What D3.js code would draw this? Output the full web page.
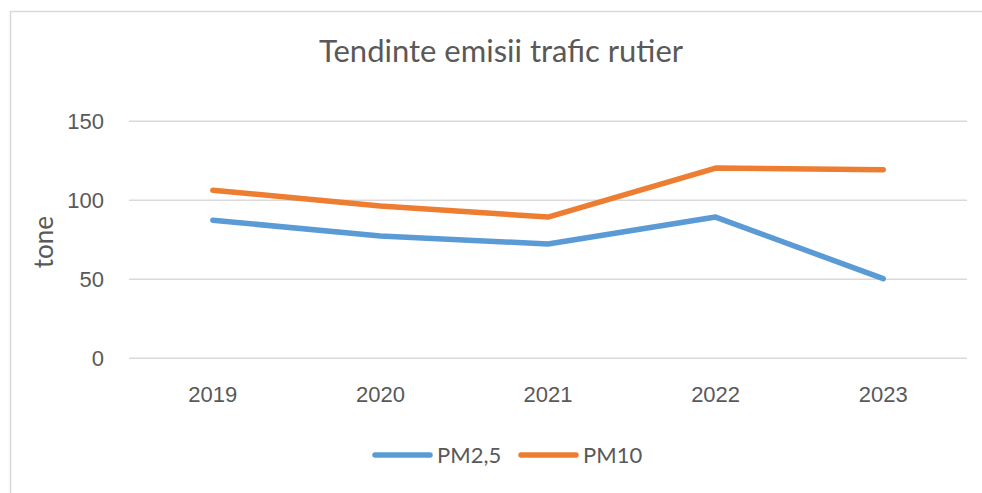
<!DOCTYPE html>
<html>
<head>
<meta charset="utf-8">
<script src="https://cdn.jsdelivr.net/npm/d3@7"></script>
<style>
  html, body { margin: 0; padding: 0; background: #fff; }
  svg { display: block; font-family: Lato, "Open Sans", sans-serif; }
</style>
</head>
<body>
<svg id="chart" width="982" height="493"></svg>
<script>
// Road traffic emissions (tonnes) by year
const years = ["2019", "2020", "2021", "2022", "2023"];
const pm25 = [87, 77, 72, 89, 50];
const pm10 = [106, 96, 89, 120, 119];
const yTicks = [0, 50, 100, 150];
const seriesNames = ["PM2,5", "PM10"];
const seriesColors = ["#5B9BD5", "#ED7D31"];

const svg = d3.select("#chart");
const W = 982, H = 493;
const margin = { left: 129, right: 15, top: 120, bottom: 135 };
const plotW = W - margin.left - margin.right;
const textColor = "#595959";

// chart frame
svg.append("rect")
  .attr("x", 10.5).attr("y", 11.5)
  .attr("width", W + 20).attr("height", H + 20)
  .attr("fill", "#fff").attr("stroke", "#D9D9D9").attr("stroke-width", 1.5);

const x = d3.scaleBand().domain(years).range([margin.left, margin.left + plotW]);
const y = d3.scaleLinear().domain([0, 150]).range([357.7, 120.7]);

// gridlines + y labels
const yAxis = d3.axisLeft(y).tickValues(yTicks).tickSize(-plotW).tickPadding(25);
const gy = svg.append("g").attr("transform", `translate(${margin.left},0)`).call(yAxis);
gy.select(".domain").remove();
gy.selectAll(".tick line").attr("stroke", "#D9D9D9").attr("stroke-width", 1.5);
gy.selectAll(".tick text")
  .attr("fill", textColor).attr("font-size", 22).attr("dy", "0.36em");

// x labels
const xAxis = d3.axisBottom(x).tickSize(0).tickPadding(29);
const gx = svg.append("g").attr("transform", `translate(0,${y(0)})`).call(xAxis);
gx.select(".domain").remove();
gx.selectAll(".tick text").attr("fill", textColor).attr("font-size", 22);

// y title
svg.append("text")
  .attr("transform", `translate(53,${(y(0) + y(150)) / 2 + 3}) rotate(-90)`)
  .attr("text-anchor", "middle")
  .attr("fill", textColor).attr("font-size", 26)
  .text("tone");

// chart title
svg.append("text")
  .attr("x", 501).attr("y", 62)
  .attr("text-anchor", "middle")
  .attr("fill", textColor).attr("font-size", 31)
  .text("Tendinte emisii trafic rutier");

// series lines
const line = d3.line()
  .x((d, i) => x(years[i]) + x.bandwidth() / 2)
  .y(d => y(d));

[pm25, pm10].forEach((vals, k) => {
  svg.append("path")
    .datum(vals)
    .attr("d", line)
    .attr("fill", "none")
    .attr("stroke", seriesColors[k])
    .attr("stroke-width", 5.5)
    .attr("stroke-linecap", "round")
    .attr("stroke-linejoin", "round");
});

// legend
const legendItems = [
  { name: seriesNames[0], color: seriesColors[0], x0: 375 },
  { name: seriesNames[1], color: seriesColors[1], x0: 521 }
];
const legendY = 455;
legendItems.forEach(it => {
  svg.append("line")
    .attr("x1", it.x0).attr("x2", it.x0 + 55)
    .attr("y1", legendY).attr("y2", legendY)
    .attr("stroke", it.color).attr("stroke-width", 5.5)
    .attr("stroke-linecap", "round");
  svg.append("text")
    .attr("x", it.x0 + 62).attr("y", legendY)
    .attr("dy", "0.36em")
    .attr("fill", textColor).attr("font-size", 22)
    .text(it.name);
});
</script>
</body>
</html>
